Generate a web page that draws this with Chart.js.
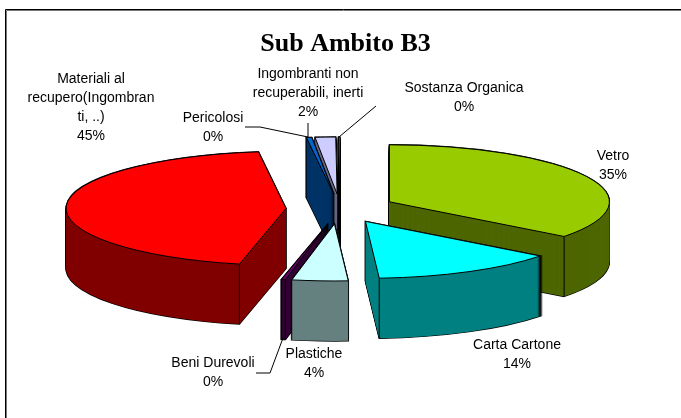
<!DOCTYPE html>
<html><head><meta charset="utf-8">
<style>html,body{margin:0;padding:0;background:#fff}#w{position:relative;width:681px;height:418px}canvas{display:block}</style>
<script src="https://cdn.jsdelivr.net/npm/chart.js@4"></script>
</head><body><div id="w"><canvas id="c" width="681" height="418"></canvas></div>
<script>
const titleText = 'Sub Ambito B3';
const categories = ['Vetro','Carta Cartone','Plastiche','Beni Durevoli','Materiali al recupero(Ingombranti, ..)','Pericolosi','Ingombranti non recuperabili, inerti','Sostanza Organica'];
const values = [35.4,13.6,4.1,0.3,44.6,0.4,1.5,0.1];
const topColors = ['#99CC00','#00FFFF','#CCFFFF','#660066','#FF0000','#0066CC','#CCCCFF','#FFFFFF'];
const sideColors = ['#4D6600','#008080','#668080','#330033','#800000','#003366','#666680','#000000'];
const labelLines = [['Vetro'],['Carta Cartone'],['Plastiche'],['Beni Durevoli'],['Materiali al','recupero(Ingombran','ti, ..)'],['Pericolosi'],['Ingombranti non','recuperabili, inerti'],['Sostanza Organica']];
// layout (not data)
const labelAnchors = [[613,156],[517,345],[314,354],[213,363],[91,79],[213,118],[308,74],[464,88]];
const sliceNudge = [[1,-1],[0,0],[-2,1],[-1,1],[0,0],[0,-1],[0,-1],[0,-1]];
const leaders = [[[245,127],[260,127],[308,137]],[[308,123],[308,137]],[[339,137],[376,106]],[[256,373],[270,373],[283,338]]];
const drawOrder = [7,6,5,4,0,3,1,2];
const PIE = {x:340,y:209,rx:220,ry:57,depth:60,explode:54,lineH:19};

function styled(bg,bc,bw){
  return {backgroundColor:bg,borderColor:bc,borderWidth:bw,borderAlign:'center',borderJoinStyle:'miter',
    borderRadius:0,offset:0,spacing:0,circular:true,borderDash:[],borderDashOffset:0};
}
function origin(arc,i){
  const k=PIE.ry/PIE.rx, mid=(arc.startAngle+arc.endAngle)/2;
  return [PIE.x+Math.cos(mid)*PIE.explode+sliceNudge[i][0], PIE.y+Math.sin(mid)*PIE.explode*k+sliceNudge[i][1]];
}
function drawArc(ctx,arc,i,dy,bg,bc,bw){
  const k=PIE.ry/PIE.rx, o=origin(arc,i);
  ctx.save();
  ctx.translate(o[0],o[1]+dy);
  ctx.scale(1,k);
  ctx.translate(-arc.x,-arc.y);
  const saved=arc.options, nativeStroke=ctx.stroke;
  arc.options=styled(bg,bc,bw);
  ctx.stroke=function(){ctx.save();ctx.setTransform(1,0,0,1,0,0);nativeStroke.call(ctx);ctx.restore();};
  arc.draw(ctx);
  delete ctx.stroke;
  arc.options=saved;
  ctx.restore();
}
const pie3d={id:'pie3d',
  beforeDraw(chart){
    const ctx=chart.ctx;
    ctx.save();
    ctx.strokeStyle='#000';ctx.lineWidth=1;
    ctx.beginPath();ctx.moveTo(681,9.5);ctx.lineTo(5.5,9.5);ctx.lineTo(5.5,418);ctx.stroke();
    ctx.strokeStyle='#777';
    ctx.beginPath();ctx.moveTo(681,10.5);ctx.lineTo(6.5,10.5);ctx.lineTo(6.5,418);ctx.stroke();
    ctx.restore();
  },
  beforeDatasetsDraw(chart){
    const ctx=chart.ctx, arcs=chart.getDatasetMeta(0).data;
    const TOP=-Math.PI/2, Q=Math.PI/2;
    for(const i of drawOrder){
      const a=arcs[i];
      for(let d=PIE.depth;d>=0;d-=1) drawArc(ctx,a,i,d,'#000','#000',1.4);
      for(let d=PIE.depth;d>=0;d-=1) drawArc(ctx,a,i,d,sideColors[i],sideColors[i],0);
      const o=origin(a,i);
      const corners=[];
      const s=a.startAngle-TOP, e=a.endAngle-TOP;
      if(e>Q&&e<2*Q) corners.push(a.endAngle);
      if(s>2*Q&&s<3*Q) corners.push(a.startAngle);
      ctx.save();ctx.strokeStyle='#000';ctx.lineWidth=1;
      for(const t of corners){
        const x=o[0]+Math.cos(t)*PIE.rx,y=o[1]+Math.sin(t)*PIE.ry;
        ctx.beginPath();ctx.moveTo(x,y);ctx.lineTo(x,y+PIE.depth);ctx.stroke();
      }
      ctx.restore();
      drawArc(ctx,a,i,0,topColors[i],'#000',1);
    }
    return false;
  },
  afterDraw(chart){
    const ctx=chart.ctx, total=values.reduce((s,v)=>s+v,0);
    ctx.save();
    ctx.strokeStyle='#000';ctx.lineWidth=1;
    leaders.forEach(p=>{ctx.beginPath();p.forEach((q,j)=>j?ctx.lineTo(q[0],q[1]):ctx.moveTo(q[0],q[1]));ctx.stroke();});
    ctx.fillStyle='#000';ctx.font='14px "Liberation Sans"';ctx.textAlign='center';ctx.textBaseline='middle';
    categories.forEach((c,i)=>{
      const lines=labelLines[i].concat([Math.round(values[i]/total*100)+'%']);
      lines.forEach((t,j)=>ctx.fillText(t,labelAnchors[i][0],labelAnchors[i][1]+j*PIE.lineH));
    });
    ctx.restore();
  }
};
new Chart(document.getElementById('c'),{
  type:'pie',
  data:{labels:categories,datasets:[{data:values,backgroundColor:topColors,radius:PIE.rx}]},
  plugins:[pie3d],
  options:{responsive:false,animation:false,rotation:0,
    layout:{padding:{left:10,right:0,top:0,bottom:0}},
    plugins:{legend:{display:false},tooltip:{enabled:false},
      title:{display:true,text:titleText,color:'#000',font:{family:'"Liberation Serif"',size:26,weight:'bold'},padding:{top:29,bottom:0}}}}
});
</script></body></html>
